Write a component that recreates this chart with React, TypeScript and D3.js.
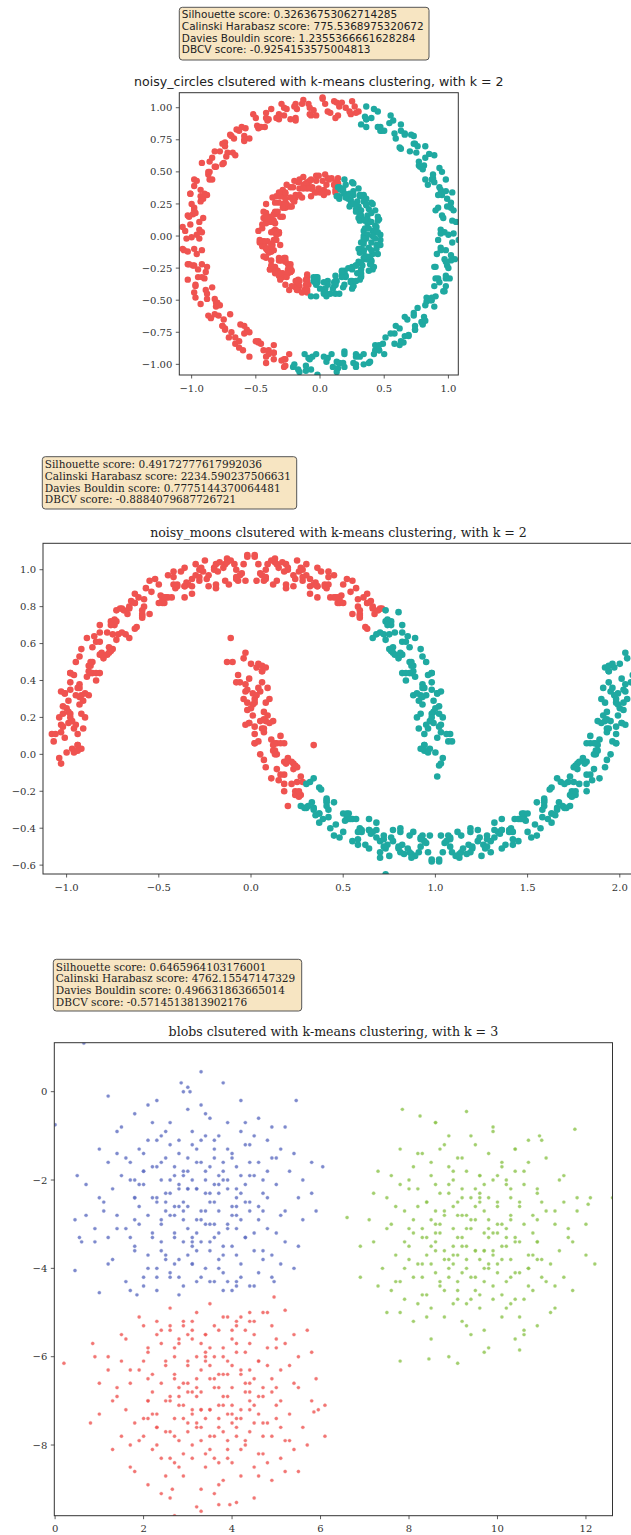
import React from "react";
import * as d3 from "d3";

type Pt = [number, number];

// ---------------- noisy circles ----------------
const circlesRed: Pt[] = [
  [0.24,0.95],[0.25,1.05],[0.14,0.94],[0.23,0.97],[0.13,1.04],[0.15,1.01],[0.02,1.07],[0.06,0.97],[-0.08,1.00],[0.04,1.03],
  [-0.07,0.94],[-0.08,0.95],[-0.20,1.01],[-0.09,1.03],[-0.23,0.91],[-0.19,1.03],[-0.32,0.95],[-0.30,1.03],[-0.41,0.90],[-0.32,0.91],
  [-0.42,0.96],[-0.40,0.91],[-0.52,0.95],[-0.48,0.84],[-0.61,0.85],[-0.49,0.86],[-0.59,0.75],[-0.59,0.74],[-0.70,0.79],[-0.59,0.78],
  [-0.72,0.65],[-0.67,0.76],[-0.78,0.66],[-0.76,0.72],[-0.86,0.58],[-0.75,0.57],[-0.84,0.61],[-0.81,0.54],[-0.92,0.57],[-0.86,0.44],
  [-0.98,0.44],[-0.84,0.44],[-0.93,0.31],[-0.91,0.29],[-1.01,0.33],[-0.88,0.32],[-0.99,0.17],[-0.93,0.27],[-1.03,0.16],[-0.98,0.22],
  [-1.07,0.07],[-0.94,0.05],[-1.01,0.09],[-0.96,0.01],[-1.05,0.04],[-0.98,-0.10],[-1.07,-0.10],[-0.92,-0.11],[-0.98,-0.23],[-0.95,-0.26],
  [-1.03,-0.22],[-0.88,-0.24],[-0.97,-0.38],[-0.89,-0.28],[-0.97,-0.39],[-0.90,-0.33],[-0.97,-0.48],[-0.82,-0.49],[-0.88,-0.45],[-0.81,-0.52],
  [-0.88,-0.49],[-0.79,-0.62],[-0.87,-0.62],[-0.70,-0.61],[-0.74,-0.73],[-0.69,-0.75],[-0.76,-0.70],[-0.59,-0.70],[-0.66,-0.84],[-0.57,-0.73],
  [-0.63,-0.82],[-0.55,-0.75],[-0.60,-0.89],[-0.44,-0.89],[-0.48,-0.83],[-0.40,-0.89],[-0.46,-0.84],[-0.36,-0.96],[-0.42,-0.94],[-0.24,-0.92],
  [-0.28,-1.02],[-0.27,-0.96],
  [0.30,0.97],[0.27,1.01],[0.28,0.96],[0.17,1.04],[0.12,0.92],[0.20,1.00],[0.08,0.96],[0.11,1.05],[-0.05,0.98],[0.02,1.08],
  [-0.03,0.94],[-0.14,1.03],[-0.18,0.99],[-0.13,1.06],[-0.19,0.90],[-0.26,0.99],[-0.19,0.92],[-0.28,1.00],[-0.28,0.94],[-0.38,0.99],
  [-0.43,0.85],[-0.34,0.92],[-0.46,0.85],[-0.42,0.92],[-0.58,0.84],[-0.50,0.92],[-0.55,0.76],[-0.65,0.83],[-0.69,0.78],[-0.63,0.82],
  [-0.68,0.65],[-0.74,0.73],[-0.66,0.63],[-0.74,0.70],[-0.73,0.62],[-0.82,0.66],[-0.86,0.50],[-0.76,0.56],[-0.87,0.48],[-0.82,0.54],
  [-0.96,0.43],[-0.87,0.50],[-0.90,0.33],[-0.98,0.39],[-1.01,0.33],[-0.93,0.36],[-0.97,0.18],[-1.00,0.25],[-0.91,0.14],[-0.98,0.20],
  [-0.94,0.11],[-1.02,0.15],[-1.04,-0.02],[-0.92,0.03],
  [-0.94,-0.02],[-1.03,-0.12],[-1.00,-0.01],[-0.96,-0.14],[-1.06,-0.11],[-0.99,-0.23],[-1.02,-0.22],[-0.95,-0.32],[-0.92,-0.22],[-1.03,-0.34],
  [-0.92,-0.32],[-0.98,-0.44],[-0.84,-0.40],[-0.93,-0.53],[-0.89,-0.42],[-0.81,-0.55],[-0.78,-0.54],[-0.85,-0.64],[-0.80,-0.52],[-0.75,-0.65],
  [-0.82,-0.61],[-0.74,-0.72],[-0.76,-0.70],[-0.66,-0.79],[-0.62,-0.69],[-0.71,-0.79],[-0.59,-0.76],[-0.63,-0.87],[-0.48,-0.82],[-0.55,-0.94],
  [-0.50,-0.82],[-0.40,-0.92],[-0.36,-0.91],[-0.42,-0.99],[-0.36,-0.85],[-0.30,-0.97],[-0.36,-0.91],[-0.27,-1.01],[-0.28,-0.96],
  [0.12,0.36],[0.11,0.40],[0.12,0.42],
  [0.06,0.45],[0.03,0.32],[0.14,0.41],[0.03,0.36],[0.09,0.45],[-0.06,0.38],[0.04,0.48],[0.01,0.34],[-0.08,0.43],[-0.10,0.40],
  [-0.03,0.47],[-0.07,0.31],[-0.11,0.41],[-0.03,0.34],[-0.10,0.42],[-0.07,0.37],[-0.16,0.44],[-0.19,0.30],[-0.08,0.38],[-0.19,0.32],
  [-0.13,0.40],[-0.27,0.33],[-0.17,0.42],[-0.20,0.27],[-0.29,0.35],[-0.31,0.32],[-0.23,0.38],[-0.27,0.22],[-0.31,0.31],[-0.22,0.23],
  [-0.29,0.31],[-0.26,0.25],[-0.34,0.31],[-0.36,0.17],[-0.25,0.23],[-0.35,0.17],[-0.29,0.25],[-0.42,0.17],[-0.32,0.26],[-0.35,0.10],
  [-0.42,0.18],[-0.44,0.14],[-0.35,0.19],[-0.38,0.03],[-0.42,0.12],[-0.32,0.03],[-0.38,0.11],[-0.35,0.05],[-0.42,0.10],[-0.44,-0.04],
  [-0.32,0.02],[-0.41,-0.04],[-0.34,0.04],[-0.47,-0.05],[-0.36,0.04],[-0.38,-0.12],[-0.44,-0.04],[-0.45,-0.08],[-0.36,-0.03],[-0.38,-0.19],
  [-0.41,-0.10],[-0.31,-0.19],[-0.36,-0.11],[-0.32,-0.17],[-0.38,-0.12],[-0.39,-0.26],[-0.27,-0.19],[-0.35,-0.25],[-0.27,-0.17],[-0.39,-0.26],
  [-0.28,-0.17],[-0.29,-0.32],[-0.35,-0.24],[-0.35,-0.28],[-0.25,-0.22],[-0.27,-0.38],[-0.29,-0.29],[-0.18,-0.37],[-0.23,-0.28],[-0.17,-0.34],
  [-0.23,-0.28],[-0.24,-0.42],[-0.11,-0.34],[-0.19,-0.40],[-0.10,-0.32],[-0.22,-0.39],[-0.10,-0.30],[-0.10,-0.44],[-0.16,-0.35],[-0.16,-0.39],
  [-0.09,-0.38],
  [0.00,0.34],[-0.08,0.43],[0.05,0.40],[-0.06,0.37],[-0.01,0.47],[-0.11,0.40],[-0.07,0.44],[-0.16,0.37],[-0.04,0.34],[-0.13,0.46],
  [-0.10,0.37],[-0.20,0.43],[-0.14,0.30],[-0.26,0.40],[-0.13,0.37],[-0.23,0.30],[-0.21,0.28],[-0.29,0.36],[-0.16,0.32],[-0.27,0.29],
  [-0.21,0.38],[-0.31,0.31],[-0.27,0.34],[-0.35,0.26],[-0.23,0.23],[-0.32,0.34],[-0.28,0.24],[-0.37,0.30],[-0.31,0.15],[-0.42,0.25],
  [-0.29,0.22],[-0.38,0.14],[-0.36,0.12],[-0.44,0.19],[-0.29,0.15],[-0.40,0.11],[-0.33,0.19],[-0.42,0.12],[-0.38,0.15],[-0.45,0.06],
  [-0.32,0.03],[-0.41,0.14],[-0.36,0.03],[-0.45,0.09],[-0.38,-0.06],[-0.48,0.04],[-0.34,0.01],[-0.43,-0.08],[-0.40,-0.10],[-0.47,-0.03],
  [-0.31,-0.07],[-0.41,-0.11],[-0.34,-0.03],[-0.42,-0.10],[-0.37,-0.07],[-0.44,-0.16],[-0.30,-0.19],[-0.38,-0.08],[-0.32,-0.19],[-0.40,-0.13],
  [-0.33,-0.27],[-0.42,-0.17],[-0.27,-0.20],[-0.35,-0.29],[-0.32,-0.31],[-0.38,-0.23],[-0.22,-0.27],[-0.31,-0.31],[-0.23,-0.22],[-0.31,-0.29],
  [-0.25,-0.26],[-0.31,-0.34],[-0.17,-0.36],[-0.23,-0.25],[-0.17,-0.35],[-0.25,-0.29],[-0.17,-0.42],[-0.26,-0.32],[-0.10,-0.35],[-0.18,-0.42],
  [-0.14,-0.44],[-0.19,-0.35],[-0.12,-0.42],[-0.11,-0.38],[-0.10,-0.42],
  [0.12,0.34],[0.14,0.45],[0.07,0.44],[0.02,0.43],[0.14,0.41],[0.04,0.34],[0.06,0.34],[-0.03,0.43],[0.11,0.40],[-0.01,0.37]
];

const circlesTeal: Pt[] = [
  [1.03,-0.05],[0.94,0.05],[1.08,0.11],[0.97,0.03],[1.04,0.20],[0.95,0.16],[0.99,0.29],[0.90,0.20],[1.02,0.26],[0.94,0.36],
  [0.98,0.35],[0.88,0.45],[0.93,0.38],[0.82,0.44],[0.95,0.50],[0.87,0.44],[0.88,0.48],[0.77,0.58],[0.89,0.63],[0.77,0.55],
  [0.82,0.70],[0.70,0.66],[0.73,0.78],[0.63,0.68],[0.73,0.72],[0.63,0.82],[0.66,0.80],[0.54,0.88],[0.58,0.80],[0.45,0.85],
  [0.57,0.90],[0.47,0.82],[0.47,0.85],[0.35,0.93],[0.45,0.97],[0.32,0.87],[0.36,1.01],
  [-0.21,-1.02],
  [-0.09,-0.95],[-0.16,-1.06],[-0.06,-0.94],[-0.11,-1.01],[-0.03,-0.92],[-0.07,-1.04],[0.10,-1.02],[0.06,-0.95],[0.15,-0.99],[0.09,-0.92],
  [0.19,-1.02],[0.13,-0.98],[0.31,-0.94],[0.28,-1.02],[0.34,-1.00],[0.28,-0.92],[0.46,-0.89],[0.39,-0.98],[0.49,-0.84],[0.43,-0.89],
  [0.51,-0.79],[0.46,-0.89],[0.62,-0.85],[0.58,-0.76],[0.66,-0.78],[0.59,-0.70],[0.69,-0.77],[0.62,-0.72],[0.79,-0.67],[0.74,-0.73],
  [0.80,-0.69],[0.73,-0.60],[0.89,-0.55],[0.81,-0.63],[0.90,-0.47],[0.83,-0.51],[0.89,-0.39],[0.83,-0.48],[0.97,-0.43],[0.92,-0.33],
  [0.98,-0.33],[0.90,-0.24],[0.98,-0.31],[0.89,-0.24],[1.05,-0.18],[0.99,-0.23],[1.02,-0.19],[0.94,-0.09],[1.08,-0.03],[0.98,-0.11],
  [0.94,0.02],[1.03,0.12],[1.00,0.01],[0.96,0.14],[1.06,0.11],[0.99,0.23],[1.02,0.22],[0.95,0.32],[0.92,0.22],[1.03,0.34],
  [0.92,0.32],[0.98,0.44],[0.84,0.40],[0.93,0.53],[0.89,0.42],[0.81,0.55],[0.78,0.54],[0.85,0.64],[0.80,0.52],[0.75,0.65],
  [0.82,0.61],[0.74,0.72],[0.76,0.70],[0.66,0.79],[0.62,0.69],[0.71,0.79],[0.59,0.76],[0.63,0.87],[0.48,0.82],[0.55,0.94],
  [0.50,0.82],[0.40,0.92],[0.36,0.91],[0.42,0.99],[0.36,0.85],[0.36,0.91],
  [-0.17,-1.04],[-0.12,-0.92],[-0.20,-1.00],[-0.08,-0.96],[-0.11,-1.05],[0.05,-0.98],[-0.02,-1.08],[0.03,-0.94],[0.14,-1.03],[0.18,-0.99],
  [0.13,-1.06],[0.19,-0.90],[0.26,-0.99],[0.19,-0.92],[0.28,-1.00],[0.28,-0.94],[0.38,-0.99],[0.43,-0.85],[0.34,-0.92],[0.46,-0.85],
  [0.42,-0.92],[0.58,-0.84],[0.50,-0.92],[0.55,-0.76],[0.65,-0.83],[0.69,-0.78],[0.63,-0.82],[0.68,-0.65],[0.74,-0.73],[0.66,-0.63],
  [0.74,-0.70],[0.73,-0.62],[0.82,-0.66],[0.86,-0.50],[0.76,-0.56],[0.87,-0.48],[0.82,-0.54],[0.96,-0.43],[0.87,-0.50],[0.90,-0.33],
  [0.98,-0.39],[1.01,-0.33],[0.93,-0.36],[0.97,-0.18],[1.00,-0.25],[0.91,-0.14],[0.98,-0.20],[0.94,-0.11],[1.02,-0.15],[1.04,0.02],
  [0.92,-0.03],
  [0.34,0.00],[0.43,0.08],[0.40,-0.05],[0.37,0.06],[0.47,0.01],[0.40,0.11],[0.44,0.07],[0.37,0.16],[0.34,0.04],[0.46,0.13],
  [0.37,0.10],[0.43,0.20],[0.30,0.14],[0.40,0.26],[0.37,0.13],[0.30,0.23],[0.28,0.21],[0.36,0.29],[0.32,0.16],[0.29,0.27],
  [0.38,0.21],[0.31,0.31],[0.34,0.27],[0.26,0.35],[0.23,0.23],[0.34,0.32],[0.24,0.28],[0.30,0.37],[0.15,0.31],[0.25,0.42],
  [0.22,0.29],[0.14,0.38],[0.19,0.44],[0.15,0.29],[0.19,0.33],[0.15,0.38],[-0.05,-0.32],[-0.07,-0.47],
  [0.03,-0.45],[-0.02,-0.36],[0.04,-0.41],[-0.02,-0.34],[-0.03,-0.47],[0.11,-0.39],[0.03,-0.44],[0.12,-0.35],[0.00,-0.41],[0.12,-0.31],
  [0.12,-0.45],[0.06,-0.35],[0.06,-0.38],[0.17,-0.31],[0.15,-0.45],[0.13,-0.35],[0.25,-0.41],[0.20,-0.31],[0.25,-0.36],[0.19,-0.28],
  [0.18,-0.40],[0.32,-0.31],[0.24,-0.36],[0.32,-0.26],[0.20,-0.32],[0.32,-0.21],[0.31,-0.34],[0.25,-0.24],[0.25,-0.26],[0.35,-0.18],
  [0.32,-0.32],[0.30,-0.20],[0.41,-0.26],[0.36,-0.16],[0.40,-0.20],[0.34,-0.12],[0.33,-0.23],[0.45,-0.14],[0.37,-0.18],[0.44,-0.07],
  [0.31,-0.13],[0.43,-0.02],[0.41,-0.14],[0.34,-0.04],[0.34,-0.06],[0.43,0.03],[0.40,-0.11],[0.37,0.01],
  [-0.03,-0.38],[-0.03,-0.32],[-0.05,-0.35],
  [0.04,-0.44],[-0.02,-0.32],[0.04,-0.41],[-0.04,-0.34],[0.05,-0.47],[-0.04,-0.36],[0.12,-0.38],[0.04,-0.44],[0.08,-0.45],[0.03,-0.36],
  [0.19,-0.38],[0.10,-0.41],[0.19,-0.31],[0.11,-0.36],[0.17,-0.32],[0.12,-0.38],[0.26,-0.39],[0.19,-0.27],[0.25,-0.35],[0.17,-0.27],
  [0.26,-0.39],[0.17,-0.28],[0.32,-0.29],[0.24,-0.35],[0.28,-0.35],[0.22,-0.25],[0.38,-0.27],[0.29,-0.29],[0.37,-0.18],[0.28,-0.23],
  [0.34,-0.17],[0.28,-0.23],[0.42,-0.24],[0.34,-0.11],[0.40,-0.19],[0.32,-0.10],[0.39,-0.22],[0.30,-0.10],[0.44,-0.10],[0.35,-0.16],
  [0.39,-0.16],[0.32,-0.05],[0.47,-0.07],[0.38,-0.09],[0.45,0.03],[0.36,-0.02],[0.41,0.04],[0.34,-0.02],[0.47,-0.03],[0.39,0.11],
  [0.44,0.03],[0.35,0.12],[0.41,0.00],[0.31,0.12],[0.45,0.12],[0.35,0.06],[0.38,0.06],[0.31,0.17],[0.45,0.15],[0.35,0.13],
  [0.41,0.25],[0.31,0.20],[0.36,0.25],[0.28,0.19],[0.40,0.18],[0.31,0.32],[0.36,0.24],[0.26,0.32],[0.32,0.20],[0.21,0.32],
  [0.34,0.31],[0.24,0.25],[0.26,0.25],[0.18,0.35],[0.32,0.32],[0.20,0.30],[0.26,0.41],[0.16,0.36],[0.20,0.40],
  [0.23,0.33],[0.18,0.37],[0.13,0.31]
];

// ---------------- noisy moons ----------------
const moonsRed: Pt[] = [
  [0.63,0.68],[0.63,0.82],[0.66,0.80],[0.54,0.88],[0.58,0.80],[0.45,0.85],[0.57,0.90],[0.47,0.82],[0.47,0.85],[0.35,0.93],
  [0.45,0.97],[0.32,0.87],[0.36,1.01],[0.24,0.95],[0.25,1.05],[0.14,0.94],[0.23,0.97],[0.13,1.04],[0.15,1.01],[0.02,1.07],
  [0.06,0.97],[-0.08,1.00],[0.04,1.03],[-0.07,0.94],[-0.08,0.95],[-0.20,1.01],[-0.09,1.03],[-0.23,0.91],[-0.19,1.03],[-0.32,0.95],
  [-0.30,1.03],[-0.41,0.90],[-0.32,0.91],[-0.42,0.96],[-0.40,0.91],[-0.52,0.95],[-0.48,0.84],[-0.61,0.85],[-0.49,0.86],[-0.59,0.75],
  [-0.59,0.74],[-0.70,0.79],[-0.59,0.78],[-0.72,0.65],[-0.67,0.76],[-0.78,0.66],[-0.76,0.72],[-0.86,0.58],[-0.75,0.57],[-0.84,0.61],
  [-0.81,0.54],[-0.92,0.57],[-0.86,0.44],[-0.98,0.44],[-0.84,0.44],[-0.93,0.31],[-0.91,0.29],[-1.01,0.33],[-0.88,0.32],[-0.99,0.17],
  [-0.93,0.27],[-1.03,0.16],[-0.98,0.22],[-1.07,0.07],[-0.94,0.05],[-1.01,0.09],[-0.96,0.01],
  [0.66,0.79],[0.62,0.69],[0.71,0.79],[0.59,0.76],[0.63,0.87],[0.48,0.82],[0.55,0.94],[0.50,0.82],[0.40,0.92],[0.36,0.91],
  [0.42,0.99],[0.36,0.85],[0.30,0.97],[0.36,0.91],[0.27,1.01],[0.28,0.96],[0.17,1.04],[0.12,0.92],[0.20,1.00],[0.08,0.96],
  [0.11,1.05],[-0.05,0.98],[0.02,1.08],[-0.03,0.94],[-0.14,1.03],[-0.18,0.99],[-0.13,1.06],[-0.19,0.90],[-0.26,0.99],[-0.19,0.92],
  [-0.28,1.00],[-0.28,0.94],[-0.38,0.99],[-0.43,0.85],[-0.34,0.92],[-0.46,0.85],[-0.42,0.92],[-0.58,0.84],[-0.50,0.92],[-0.55,0.76],
  [-0.65,0.83],[-0.69,0.78],[-0.63,0.82],[-0.68,0.65],[-0.74,0.73],[-0.66,0.63],[-0.74,0.70],[-0.73,0.62],[-0.82,0.66],[-0.86,0.50],
  [-0.76,0.56],[-0.87,0.48],[-0.82,0.54],[-0.96,0.43],[-0.87,0.50],[-0.90,0.33],[-0.98,0.39],[-1.01,0.33],[-0.93,0.36],[-0.97,0.18],
  [-1.00,0.25],[-0.91,0.14],[-0.98,0.20],[-0.94,0.11],[-1.02,0.15],[-1.04,-0.02],[-0.92,0.03],
  [-1.03,-0.05],[-0.94,0.05],[-1.08,0.11],[-0.97,0.03],[-1.04,0.20],[-0.95,0.16],[-0.99,0.29],[-0.90,0.20],[-1.02,0.26],[-0.94,0.36],
  [-0.98,0.35],[-0.88,0.45],[-0.93,0.38],[-0.82,0.44],[-0.95,0.50],[-0.87,0.44],[-0.88,0.48],[-0.77,0.58],[-0.89,0.63],[-0.77,0.55],
  [-0.82,0.70],[-0.70,0.66],[-0.73,0.78],[-0.63,0.68],[-0.73,0.72],[-0.63,0.82],[-0.66,0.80],[-0.54,0.88],[-0.58,0.80],[-0.45,0.85],
  [-0.57,0.90],[-0.47,0.82],[-0.47,0.85],[-0.35,0.93],[-0.45,0.97],[-0.32,0.87],[-0.36,1.01],[-0.24,0.95],[-0.25,1.05],[-0.14,0.94],
  [-0.23,0.97],[-0.13,1.04],[-0.15,1.01],[-0.02,1.07],[-0.06,0.97],[0.08,1.00],[-0.04,1.03],[0.07,0.94],[0.08,0.95],[0.20,1.01],
  [0.09,1.03],[0.23,0.91],[0.19,1.03],[0.32,0.95],[0.30,1.03],[0.41,0.90],[0.32,0.91],[0.42,0.96],[0.40,0.91],[0.52,0.95],
  [0.48,0.84],[0.61,0.85],[0.49,0.86],[0.59,0.75],[0.59,0.74],[0.70,0.79],[0.59,0.78],[0.67,0.76],
  [-0.94,0.02],[-1.03,0.12],[-1.00,0.01],[-0.96,0.14],[-1.06,0.11],[-0.99,0.23],[-1.02,0.22],[-0.95,0.32],[-0.92,0.22],[-1.03,0.34],
  [-0.92,0.32],[-0.98,0.44],[-0.84,0.40],[-0.93,0.53],[-0.89,0.42],[-0.81,0.55],[-0.78,0.54],[-0.85,0.64],[-0.80,0.52],[-0.75,0.65],
  [-0.82,0.61],[-0.74,0.72],[-0.76,0.70],[-0.66,0.79],[-0.62,0.69],[-0.71,0.79],[-0.59,0.76],[-0.63,0.87],[-0.48,0.82],[-0.55,0.94],
  [-0.50,0.82],[-0.40,0.92],[-0.36,0.91],[-0.42,0.99],[-0.36,0.85],[-0.30,0.97],[-0.36,0.91],[-0.27,1.01],[-0.28,0.96],[-0.17,1.04],
  [-0.12,0.92],[-0.20,1.00],[-0.08,0.96],[-0.11,1.05],[0.05,0.98],[-0.02,1.08],[0.03,0.94],[0.14,1.03],[0.18,0.99],[0.13,1.06],
  [0.19,0.90],[0.26,0.99],[0.19,0.92],[0.28,1.00],[0.28,0.94],[0.38,0.99],[0.43,0.85],[0.34,0.92],[0.46,0.85],[0.42,0.92],
  [0.58,0.84],[0.50,0.92],[0.55,0.76],[0.65,0.83],[0.69,0.78],[0.63,0.82],
  [-0.03,0.55],[0.06,0.45],[-0.08,0.39],[0.03,0.47],[-0.04,0.30],[0.05,0.34],[0.01,0.21],[0.10,0.30],[-0.02,0.24],[0.06,0.14],
  [0.02,0.15],[0.12,0.05],[0.07,0.12],[0.18,0.06],[0.05,0.00],[0.13,0.06],[0.12,0.02],[0.23,-0.08],[0.11,-0.13],[0.23,-0.05],
  [0.18,-0.20],[0.27,-0.22],
  [0.06,0.48],[-0.03,0.38],[0.00,0.49],[0.04,0.36],[-0.06,0.39],[0.01,0.27],[-0.02,0.28],[0.05,0.18],[0.08,0.28],[-0.03,0.16],
  [0.08,0.18],[0.02,0.06],[0.16,0.10],[0.07,-0.03],[0.11,0.08],[0.19,-0.05],[0.22,-0.04],[0.15,-0.14],[0.20,-0.02],[0.25,-0.15],
  [0.18,-0.11],[0.26,-0.22],[0.24,-0.20],
  [0.28,-0.15],[0.22,-0.16],[0.24,-0.22],[0.14,-0.08],[0.25,-0.07],[0.16,-0.11],[0.19,-0.04],[0.08,-0.07],[0.14,0.06],[0.02,0.06],
  [0.16,0.06],[0.07,0.19],[0.09,0.21],[-0.01,0.17],[0.12,0.18],[0.01,0.33],[0.07,0.23],[-0.03,0.34],[0.02,0.28],[-0.07,0.43],
  [0.06,0.45],[-0.01,0.41],[0.04,0.49],
  [0.26,-0.23],[0.26,-0.20],[0.27,-0.12],[0.18,-0.16],[0.14,0.00],[0.24,-0.06],[0.13,0.02],[0.18,-0.04],[0.04,0.07],[0.13,0.00],
  [0.10,0.17],[0.02,0.11],[-0.01,0.17],[0.07,0.14],[0.03,0.32],[0.00,0.25],[0.09,0.36],[0.02,0.30],[0.06,0.39],[-0.02,0.35],
  [-0.04,0.52],[0.08,0.47],
  [-0.11,0.63],[-0.13,0.50],[-0.10,0.50],[0.34,0.05],[0.20,-0.28]
];

const moonsTeal: Pt[] = [
  [1.03,-0.05],[0.94,0.05],[1.08,0.11],[0.97,0.03],[1.04,0.20],[0.95,0.16],[0.99,0.29],[0.90,0.20],[1.02,0.26],[0.94,0.36],
  [0.98,0.35],[0.88,0.45],[0.93,0.38],[0.82,0.44],[0.95,0.50],[0.87,0.44],[0.88,0.48],[0.77,0.58],[0.89,0.63],[0.77,0.55],
  [0.82,0.70],[0.70,0.66],[0.73,0.78],[0.73,0.72],
  [0.94,0.02],[1.03,0.12],[1.00,0.01],[0.96,0.14],[1.06,0.11],[0.99,0.23],[1.02,0.22],[0.95,0.32],[0.92,0.22],[1.03,0.34],
  [0.92,0.32],[0.98,0.44],[0.84,0.40],[0.93,0.53],[0.89,0.42],[0.81,0.55],[0.78,0.54],[0.85,0.64],[0.80,0.52],[0.75,0.65],
  [0.82,0.61],[0.74,0.72],[0.76,0.70],
  [0.72,0.65],[0.78,0.66],[0.76,0.72],[0.86,0.58],[0.75,0.57],[0.84,0.61],[0.81,0.54],[0.92,0.57],[0.86,0.44],[0.98,0.44],
  [0.84,0.44],[0.93,0.31],[0.91,0.29],[1.01,0.33],[0.88,0.32],[0.99,0.17],[0.93,0.27],[1.03,0.16],[0.98,0.22],[1.07,0.07],
  [0.94,0.05],[1.01,0.09],[0.96,0.01],
  [0.68,0.65],[0.74,0.73],[0.66,0.63],[0.74,0.70],[0.73,0.62],[0.82,0.66],[0.86,0.50],[0.76,0.56],[0.87,0.48],[0.82,0.54],
  [0.96,0.43],[0.87,0.50],[0.90,0.33],[0.98,0.39],[1.01,0.33],[0.93,0.36],[0.97,0.18],[1.00,0.25],[0.91,0.14],[0.98,0.20],
  [0.94,0.11],[1.02,0.15],[1.04,-0.02],[0.92,0.03],
  [1.01,-0.12],[1.02,-0.06],[1.09,0.07],[0.80,0.77],[0.73,-0.65],[0.70,-0.56],
  [0.30,-0.16],[0.27,-0.28],[0.37,-0.18],[0.37,-0.32],[0.34,-0.30],[0.46,-0.38],[0.42,-0.30],[0.55,-0.35],[0.43,-0.40],[0.53,-0.32],
  [0.53,-0.35],[0.65,-0.43],[0.55,-0.47],[0.68,-0.37],[0.64,-0.51],[0.76,-0.45],[0.75,-0.55],[0.86,-0.44],[0.77,-0.47],[0.87,-0.54],
  [0.85,-0.51],[0.98,-0.57],[0.94,-0.47],[1.08,-0.50],[0.96,-0.53],[1.07,-0.44],[1.08,-0.45],[1.20,-0.51],[1.09,-0.53],[1.23,-0.41],
  [1.19,-0.53],[1.32,-0.45],[1.30,-0.53],[1.41,-0.40],[1.32,-0.41],[1.42,-0.46],[1.40,-0.41],[1.52,-0.45],[1.48,-0.34],[1.61,-0.35],
  [1.49,-0.36],[1.59,-0.25],[1.59,-0.24],[1.70,-0.29],[1.59,-0.28],[1.72,-0.15],[1.67,-0.26],[1.78,-0.16],[1.76,-0.22],[1.86,-0.08],
  [1.75,-0.07],[1.84,-0.11],[1.81,-0.04],[1.92,-0.07],[1.86,0.06],[1.98,0.06],[1.84,0.06],[1.93,0.19],[1.91,0.21],[2.01,0.17],
  [1.88,0.18],[1.99,0.33],[1.93,0.23],[2.03,0.34],[1.98,0.28],[2.07,0.43],[1.94,0.45],[2.01,0.41],[1.96,0.49],
  [0.34,-0.29],[0.38,-0.19],[0.29,-0.29],[0.41,-0.26],[0.37,-0.37],[0.52,-0.32],[0.45,-0.44],[0.50,-0.32],[0.60,-0.42],[0.64,-0.41],
  [0.58,-0.49],[0.64,-0.35],[0.70,-0.47],[0.64,-0.41],[0.73,-0.51],[0.72,-0.46],[0.83,-0.54],[0.88,-0.42],[0.80,-0.50],[0.92,-0.46],
  [0.89,-0.55],[1.05,-0.48],[0.98,-0.58],[1.03,-0.44],[1.14,-0.53],[1.18,-0.49],[1.13,-0.56],[1.19,-0.40],[1.26,-0.49],[1.19,-0.42],
  [1.28,-0.50],[1.28,-0.44],[1.38,-0.49],[1.43,-0.35],[1.34,-0.42],[1.46,-0.35],[1.42,-0.42],[1.58,-0.34],[1.50,-0.42],[1.55,-0.26],
  [1.65,-0.33],[1.69,-0.28],[1.63,-0.32],[1.68,-0.15],[1.74,-0.23],[1.66,-0.13],[1.74,-0.20],[1.73,-0.12],[1.82,-0.16],[1.86,0.00],
  [1.76,-0.06],[1.87,0.02],[1.82,-0.04],[1.96,0.07],[1.87,0.00],[1.90,0.17],[1.98,0.11],[2.01,0.17],[1.93,0.14],[1.97,0.32],
  [2.00,0.25],[1.91,0.36],[1.98,0.30],[1.94,0.39],[2.02,0.35],[2.04,0.52],[1.92,0.47],
  [2.03,0.55],[1.94,0.45],[2.08,0.39],[1.97,0.47],[2.04,0.30],[1.95,0.34],[1.99,0.21],[1.90,0.30],[2.02,0.24],[1.94,0.14],
  [1.98,0.15],[1.88,0.05],[1.93,0.12],[1.82,0.06],[1.95,0.00],[1.87,0.06],[1.88,0.02],[1.77,-0.08],[1.89,-0.13],[1.77,-0.05],
  [1.82,-0.20],[1.70,-0.16],[1.73,-0.28],[1.63,-0.18],[1.73,-0.22],[1.63,-0.32],[1.66,-0.30],[1.54,-0.38],[1.58,-0.30],[1.45,-0.35],
  [1.57,-0.40],[1.47,-0.32],[1.47,-0.35],[1.35,-0.43],[1.45,-0.47],[1.32,-0.37],[1.36,-0.51],[1.24,-0.45],[1.25,-0.55],[1.14,-0.44],
  [1.23,-0.47],[1.13,-0.54],[1.15,-0.51],[1.02,-0.57],[1.06,-0.47],[0.92,-0.50],[1.04,-0.53],[0.93,-0.44],[0.92,-0.45],[0.80,-0.51],
  [0.91,-0.53],[0.77,-0.41],[0.81,-0.53],[0.68,-0.45],[0.70,-0.53],[0.59,-0.40],[0.68,-0.41],[0.58,-0.46],[0.60,-0.41],[0.48,-0.45],
  [0.52,-0.34],[0.39,-0.35],[0.51,-0.36],[0.41,-0.25],[0.41,-0.24],[0.30,-0.29],[0.41,-0.28],[0.33,-0.26],
  [1.94,0.48],[2.03,0.38],[2.00,0.49],[1.96,0.36],[2.06,0.39],[1.99,0.27],[2.02,0.28],[1.95,0.18],[1.92,0.28],[2.03,0.16],
  [1.92,0.18],[1.98,0.06],[1.84,0.10],[1.93,-0.03],[1.89,0.08],[1.81,-0.05],[1.78,-0.04],[1.85,-0.14],[1.80,-0.02],[1.75,-0.15],
  [1.82,-0.11],[1.74,-0.22],[1.76,-0.20],[1.66,-0.29],[1.62,-0.19],[1.71,-0.29],[1.59,-0.26],[1.63,-0.37],[1.48,-0.32],[1.55,-0.44],
  [1.50,-0.32],[1.40,-0.42],[1.36,-0.41],[1.42,-0.49],[1.36,-0.35],[1.30,-0.47],[1.36,-0.41],[1.27,-0.51],[1.28,-0.46],[1.17,-0.54],
  [1.12,-0.42],[1.20,-0.50],[1.08,-0.46],[1.11,-0.55],[0.95,-0.48],[1.02,-0.58],[0.97,-0.44],[0.86,-0.53],[0.82,-0.49],[0.87,-0.56],
  [0.81,-0.40],[0.74,-0.49],[0.81,-0.42],[0.72,-0.50],[0.72,-0.44],[0.62,-0.49],[0.57,-0.35],[0.66,-0.42],[0.54,-0.35],[0.58,-0.42],
  [0.42,-0.34],[0.50,-0.42],[0.45,-0.26],[0.35,-0.33],[0.31,-0.28],[0.37,-0.32],[0.32,-0.15],[0.34,-0.13]
];

// ---------------- blobs ----------------
const blobsBlue: Pt[] = [
  [3.5,-3.0],[2.0,-2.1],[4.0,-1.4],[2.8,-3.8],[4.7,-2.3],[2.5,-2.7],[3.3,-1.6],[1.4,-3.1],[3.8,-4.1],[3.0,-2.2],
  [4.3,-3.3],[2.3,-1.1],[3.6,-2.5],[1.8,-3.6],[5.3,-1.8],[2.7,-1.9],[4.1,-2.8],[3.1,-3.4],[4.5,-1.0],[1.0,-2.4],
  [3.4,-0.5],[2.6,-4.2],[4.9,-3.7],[2.2,-1.7],[3.7,-2.1],[2.9,-2.9],[4.2,-1.9],[1.6,-1.5],[3.2,-4.3],[5.6,-2.9],
  [2.4,-3.4],[3.9,-0.7],[1.9,-2.6],[4.6,-2.6],[2.8,-1.4],[3.5,-3.6],[1.2,-3.9],[4.4,-1.6],[3.0,-3.1],[4.0,-4.5],
  [2.1,-0.3],[5.1,-1.3],[2.5,-2.3],[3.3,-2.7],[1.7,-2.0],[3.8,-1.8],[3.1,-0.9],[4.8,-3.1],[2.3,-4.0],[3.6,-3.3],
  [0.7,-2.8],[4.2,-0.2],[2.7,-2.6],[5.4,-4.0],[2.0,-4.4],[3.4,-2.0],[2.6,-1.2],[4.1,-2.4],[1.5,-0.8],[4.5,-4.4],
  [2.9,-2.5],[3.7,-3.8],[2.2,-3.2],[5.0,-2.1],[2.4,-1.6],[3.2,-1.3],[5.8,-1.6],[1.3,-2.2],[3.9,-3.0],[2.8,-4.6],
  [4.3,-1.2],[1.8,-2.9],[3.5,-1.7],[3.1,-3.9],[4.7,-2.0],[0.9,-3.4],[4.0,-3.5],[2.6,-2.0],[3.4,-1.0],[2.1,-3.7],
  [4.4,-2.7],[3.0,0.1],[5.2,-3.4],[2.3,-2.5],[3.8,-4.5],[1.6,-4.3],[3.6,-1.5],[2.7,-3.3],[4.9,-1.5],[1.9,-1.3],
  [3.3,-2.9],[4.1,-2.2],[2.5,-3.7],[4.6,-0.6],[1.1,-2.7],[3.7,-2.3],[2.9,-1.8],[4.2,-3.9],[2.2,-0.7],[3.2,-3.2],
  [5.5,-2.4],[2.4,-3.0],[3.9,-2.0],[1.7,-3.3],[4.3,-2.5],[2.8,-2.1],[3.5,-4.3],[2.0,-1.8],[4.8,-1.1],[2.6,-2.8],
  [3.4,-2.3],[1.4,-1.4],[4.5,-3.2],[3.0,-1.5],[4.0,-2.6],[2.3,-4.5],[3.6,-1.1],[3.1,-3.5],[5.1,-2.8],[1.8,-2.4],
  [3.8,-1.6],[2.7,-3.9],[4.4,-1.9],[2.5,-0.9],[3.2,-2.2],[5.2,-0.8],[0.5,-1.9],[4.1,-4.4],[2.9,-2.7],[4.7,-3.6],
  [2.7,-2.8],[3.6,-1.3],[4.3,-3.3],[1.9,-2.1],[3.4,-4.0],[3.0,-1.8],[4.1,-2.6],[2.6,-0.7],[1.6,-3.1],[3.5,-2.3],
  [2.4,-3.6],[4.6,-1.6],[3.2,-2.9],[2.1,-1.1],[3.9,-4.3],[3.8,-2.0],[2.9,-3.4],[2.3,-2.4],[4.7,-3.8],[3.3,-0.3],
  [5.2,-2.7],[1.5,-1.9],[2.0,-4.2],[4.0,-1.5],[3.6,-3.0],[2.8,-2.2],[3.8,-3.5],[4.2,-0.9],[1.1,-2.5],[2.8,-4.2],
  [2.3,-1.7],[5.0,-3.2],[3.1,-1.2],[3.1,-3.9],[4.3,-2.1],[2.1,-2.8],[1.8,-0.5],[4.1,-3.7],[2.6,-2.3],[1.2,-3.3],
  [5.4,-1.4],[4.4,-4.4],[3.4,-1.8],[3.0,-2.6],[3.7,-1.0],[3.9,-3.1],[4.8,-2.4],[2.6,-4.1],[1.7,-1.6],[2.4,-2.9],
  [2.9,0.0],[5.5,-3.5],[3.1,-2.0],[1.7,-4.5],[1.0,-1.3],[3.7,-2.7],[4.5,-1.9],[3.3,-3.4],[4.9,-0.8],[1.3,-3.8],
  [3.2,-2.2],[1.9,-3.0],[2.5,-1.5],[3.6,-4.3],[4.1,-1.7],[4.4,-2.5],[4.1,-4.3],[3.5,-0.6],[2.7,-3.2],[0.7,-2.1],
  [4.5,-3.6],[2.8,-1.1],[4.0,-2.8],[1.8,-2.4],[3.7,-4.0],[2.3,-0.2],[2.2,-3.3],[3.7,-1.9],[4.7,-2.7],[2.0,-1.4],
  [3.0,-3.7],[5.8,-2.3],[2.3,-4.2],[3.2,-1.6],[0.9,-3.1],[1.4,-0.9],[4.2,-2.9],[2.4,-2.0],[4.2,-4.2],[4.4,-1.2],
  [2.8,-2.6],[3.5,-3.4],[2.0,-1.8],[5.1,-3.9],[3.0,-0.4],[3.4,-3.0],[3.9,-2.2],[1.8,-3.5],[5.0,-1.5],[2.5,-2.5],
  [3.3,-4.2],[2.7,-1.7],[3.7,-3.2],[2.4,-1.0],[3.2,-3.6],[3.6,-2.1],[1.4,-2.8],[3.9,-1.3],[4.6,-4.1],[2.9,-1.9],
  [3.4,-2.7],[4.3,-0.7],[2.5,-3.8],[4.2,-2.3],[3.1,-3.3],[1.2,-1.6],[4.6,-2.9],[2.2,-2.4],[2.9,-4.4],[3.3,-1.1],
  [4.1,-3.1],[1.8,-2.0],[3.8,-3.7],[4.8,-1.8],[3.5,-2.5],[4.9,-4.2],[3.8,0.2],[0.6,-3.4],[3.0,-2.2],[2.1,-4.0],
  [3.3,0.45],[2.85,0.2],[3.05,0.0],[5.45,-0.2],[6.05,-1.7],[5.6,-2.0],[0.0,-0.75],[0.45,-2.9],[0.55,-3.3],[1.2,-0.1],
  [0.65,1.1],[5.9,-2.7],[0.45,-4.05],[1.0,-4.55],[1.85,-4.6],[4.95,-4.3]
];

const blobsRed: Pt[] = [
  [3.0,-6.6],[3.9,-8.1],[4.6,-6.1],[2.2,-7.3],[3.7,-5.4],[3.3,-7.6],[4.4,-6.8],[2.9,-8.7],[1.9,-6.3],[3.8,-7.1],
  [2.7,-5.8],[4.9,-7.8],[3.5,-6.5],[2.4,-8.3],[4.2,-5.1],[4.1,-7.4],[3.2,-6.0],[2.6,-7.0],[5.0,-5.6],[3.6,-9.1],
  [5.5,-6.7],[1.8,-7.5],[2.3,-5.2],[4.3,-7.9],[3.9,-6.4],[3.1,-7.2],[4.1,-5.9],[4.5,-8.5],[1.4,-6.9],[3.1,-5.2],
  [2.6,-7.7],[5.3,-6.2],[3.4,-8.2],[3.4,-5.5],[4.6,-7.3],[2.4,-6.6],[2.1,-8.9],[4.4,-5.7],[2.9,-7.1],[1.5,-6.1],
  [5.7,-8.0],[4.7,-5.0],[3.7,-7.6],[3.3,-6.8],[4.0,-8.4],[4.2,-6.3],[5.1,-7.0],[2.9,-5.3],[2.0,-7.8],[2.7,-6.5],
  [3.2,-9.4],[5.8,-5.9],[3.4,-7.4],[2.0,-5.3],[1.3,-8.1],[4.0,-6.7],[4.8,-7.5],[3.6,-6.0],[5.2,-8.6],[1.6,-5.6],
  [3.5,-7.2],[2.2,-6.4],[2.8,-7.9],[3.9,-5.1],[4.4,-7.7],[4.7,-6.9],[4.4,-5.2],[3.8,-8.8],[3.0,-6.2],[1.0,-7.3],
  [4.8,-5.8],[3.1,-8.3],[4.3,-6.6],[2.1,-7.0],[4.0,-5.4],[2.6,-9.2],[2.5,-6.1],[4.0,-7.5],[5.0,-6.7],[2.3,-8.0],
  [3.3,-5.7],[6.1,-7.1],[2.6,-4.9],[3.5,-7.8],[1.2,-6.3],[1.7,-8.5],[4.5,-6.5],[2.7,-7.4],[4.5,-5.2],[4.7,-8.2],
  [3.1,-6.8],[3.8,-6.0],[2.3,-7.6],[5.4,-5.5],[3.3,-9.0],[3.7,-6.4],[4.2,-7.2],[2.1,-5.9],[5.3,-7.9],[2.8,-6.9],
  [3.6,-5.3],[3.0,-7.7],[4.0,-6.2],[2.7,-8.4],[3.5,-5.8],[3.9,-7.3],[1.7,-6.6],[4.2,-8.1],[4.9,-5.3],[3.2,-7.5],
  [3.7,-6.7],[4.6,-8.7],[2.8,-5.6],[4.5,-7.1],[3.4,-6.1],[1.5,-7.8],[4.9,-6.5],[2.5,-7.0],[3.2,-5.0],[3.6,-8.3],
  [4.4,-6.3],[2.1,-7.4],[4.1,-5.7],[5.1,-7.6],[3.8,-6.9],[5.2,-4.95],[4.1,-9.3],[0.9,-6.0],[3.3,-7.2],[2.4,-5.4],
  [3.8,-6.4],[2.3,-7.3],[4.3,-8.0],[3.1,-5.6],[5.0,-7.1],[2.8,-6.7],[3.6,-7.8],[1.7,-6.3],[4.1,-5.3],[3.3,-7.2],
  [4.6,-6.1],[2.6,-8.3],[3.9,-6.9],[2.1,-5.8],[5.6,-7.6],[3.0,-7.5],[4.4,-6.6],[3.4,-6.0],[4.8,-8.4],[1.3,-7.0],
  [3.7,-8.9],[2.9,-5.2],[5.2,-5.7],[2.5,-7.7],[4.0,-7.3],[3.2,-6.5],[4.5,-7.5],[1.9,-7.9],[3.5,-4.8],[5.9,-6.5],
  [2.7,-6.0],[4.2,-8.7],[2.2,-6.8],[4.9,-6.8],[3.1,-8.0],[3.8,-5.8],[1.5,-5.5],[4.7,-7.8],[3.3,-6.3],[4.3,-5.4],
  [2.4,-9.1],[5.4,-8.1],[2.8,-7.1],[3.6,-6.7],[2.0,-7.4],[4.1,-7.6],[3.4,-8.5],[5.1,-6.3],[2.6,-5.4],[3.9,-6.1],
  [1.0,-6.6],[4.5,-9.2],[3.0,-6.8],[5.7,-5.4],[2.3,-5.5],[3.7,-7.4],[2.9,-8.2],[4.4,-7.0],[1.8,-8.6],[4.8,-5.0],
  [3.2,-6.9],[4.0,-5.6],[2.5,-6.2],[5.3,-7.3],[2.7,-7.8],[3.5,-8.1],[6.1,-7.8],[1.6,-7.2],[4.2,-6.4],[3.1,-5.4],
  [4.6,-8.2],[2.1,-6.5],[3.8,-7.7],[3.4,-5.5],[5.0,-7.4],[1.2,-6.0],[4.3,-5.9],[2.9,-7.4],[3.7,-8.4],[2.4,-5.7],
  [4.7,-6.7],[3.3,-9.5],[5.5,-6.0],[2.6,-6.9],[4.1,-5.2],[1.9,-5.1],[3.9,-7.9],[3.0,-6.1],[5.2,-7.9],[2.2,-8.1],
  [3.6,-6.5],[4.4,-7.2],[2.8,-5.7],[4.9,-8.8],[1.4,-6.7],[4.0,-7.1],[3.2,-7.6],[4.5,-5.5],[2.5,-8.7],[3.5,-6.2],
  [5.8,-7.0],[2.7,-6.4],[4.2,-7.4],[2.0,-6.1],[4.6,-6.9],[3.1,-7.3],[3.8,-5.1],[2.3,-7.6],[5.1,-8.3],[2.9,-6.6],
  [3.7,-7.1],[1.7,-8.0],[4.8,-6.2],[3.3,-7.9],[4.3,-6.8],[2.6,-5.3],[3.9,-8.3],[3.4,-5.9],[5.4,-6.6],[2.1,-7.0],
  [4.1,-7.8],[3.0,-5.5],[4.7,-7.5],[2.8,-8.5],[3.5,-7.2],[5.5,-8.6],[0.8,-7.5],[4.4,-5.0],[3.2,-6.7],[5.0,-5.8],
  [0.2,-6.15],[5.85,-7.25],[5.95,-7.2],[3.7,-9.35],[3.95,-9.35],[2.7,-9.6],[0.85,-5.7],[4.95,-4.65],[2.65,-9.0]
];

const blobsGreen: Pt[] = [
  [9.2,-2.8],[10.7,-3.7],[8.7,-4.4],[9.9,-2.0],[8.0,-3.5],[10.2,-3.1],[9.4,-4.2],[11.3,-2.7],[8.9,-1.7],[9.7,-3.6],
  [8.4,-2.5],[10.4,-4.7],[9.1,-3.3],[10.9,-2.2],[7.4,-4.0],[10.0,-3.9],[8.6,-3.0],[9.6,-2.4],[8.2,-4.8],[11.7,-3.4],
  [9.3,-5.3],[10.1,-1.6],[7.8,-2.1],[10.5,-4.1],[9.0,-3.7],[9.8,-2.9],[8.5,-3.9],[11.1,-4.3],[9.5,-1.2],[7.1,-2.9],
  [10.3,-2.4],[8.8,-5.1],[10.8,-3.2],[8.1,-3.2],[9.9,-4.4],[9.2,-2.2],[11.5,-1.9],[8.3,-4.2],[9.7,-2.7],[8.7,-1.3],
  [10.6,-5.5],[7.6,-4.5],[10.2,-3.5],[9.4,-3.1],[11.0,-3.8],[8.9,-4.0],[9.6,-4.9],[7.9,-2.7],[10.4,-1.8],[9.1,-2.5],
  [12.0,-3.0],[8.5,-5.6],[10.0,-3.2],[7.3,-1.8],[10.7,-1.1],[9.3,-3.8],[10.1,-4.6],[8.6,-3.4],[11.2,-5.0],[8.2,-1.4],
  [9.8,-3.3],[9.0,-2.0],[10.5,-2.6],[7.7,-3.7],[10.3,-4.2],[9.5,-4.5],[6.9,-4.2],[11.4,-3.6],[8.8,-2.8],[9.9,-0.8],
  [8.4,-4.6],[10.9,-2.9],[9.2,-4.1],[9.6,-1.9],[8.0,-3.8],[11.8,-2.4],[8.7,-2.3],[10.1,-3.8],[9.3,-4.8],[10.6,-2.1],
  [8.3,-3.1],[9.7,-5.9],[7.5,-2.4],[10.4,-3.3],[8.9,-1.0],[11.1,-1.5],[9.1,-4.3],[10.0,-2.5],[7.8,-4.3],[10.8,-4.5],
  [9.4,-2.9],[8.6,-3.6],[10.2,-2.1],[8.1,-5.2],[11.6,-3.1],[9.0,-3.5],[9.8,-4.0],[8.5,-1.9],[10.5,-5.1],[9.5,-2.6],
  [7.2,-3.4],[10.3,-2.8],[8.8,-3.8],[11.0,-2.5],[8.4,-3.3],[9.9,-3.7],[9.2,-1.5],[10.7,-4.0],[7.9,-4.7],[10.1,-3.0],
  [9.3,-3.5],[11.3,-4.4],[8.2,-2.6],[9.7,-4.3],[8.7,-3.2],[10.4,-1.3],[9.1,-4.7],[9.6,-2.3],[7.6,-3.0],[10.9,-3.4],
  [8.9,-4.2],[10.0,-1.9],[8.3,-3.9],[10.2,-4.9],[9.5,-3.6],[7.5,-5.0],[12.2,-3.9],[8.6,-0.7],[9.8,-3.1],[8.0,-2.2],
  [10.0,-3.0],[9.1,-4.5],[8.4,-2.5],[10.8,-3.7],[9.3,-1.8],[9.7,-4.0],[8.6,-3.2],[10.1,-5.1],[11.1,-2.7],[9.2,-3.5],
  [10.3,-2.2],[8.1,-4.2],[9.5,-2.9],[10.6,-4.7],[8.8,-1.2],[8.9,-3.8],[9.8,-2.4],[10.4,-3.4],[8.0,-2.0],[9.4,-5.5],
  [7.5,-3.1],[11.2,-3.9],[10.7,-1.6],[8.7,-4.3],[9.1,-2.8],[9.9,-3.6],[8.9,-2.3],[8.5,-4.9],[11.6,-3.3],[9.9,-0.9],
  [10.4,-4.1],[7.7,-2.6],[9.6,-4.6],[9.6,-1.9],[8.4,-3.7],[10.6,-3.0],[10.9,-5.3],[8.6,-2.1],[10.1,-3.5],[11.5,-2.5],
  [7.3,-4.4],[8.3,-1.4],[9.3,-4.0],[9.7,-3.2],[9.0,-4.8],[8.8,-2.7],[7.9,-3.4],[10.1,-1.7],[11.0,-4.2],[10.3,-2.9],
  [9.8,-5.8],[7.2,-2.3],[9.6,-3.8],[11.0,-1.1],[11.7,-4.5],[9.0,-3.1],[8.2,-3.9],[9.4,-2.4],[7.8,-5.0],[11.4,-2.0],
  [9.5,-3.6],[10.8,-2.8],[10.2,-4.3],[9.1,-1.5],[8.6,-4.1],[8.3,-3.3],[8.6,-0.7],[9.2,-5.2],[10.0,-2.6],[12.0,-3.7],
  [8.2,-2.2],[9.9,-4.7],[8.7,-3.0],[10.9,-3.4],[9.0,-1.8],[10.4,-5.6],[10.5,-2.5],[9.0,-3.9],[8.0,-3.1],[10.7,-4.4],
  [9.7,-2.1],[6.9,-3.5],[10.4,-1.3],[9.5,-4.2],[11.8,-2.7],[11.3,-4.9],[8.5,-2.9],[10.3,-3.8],[8.5,-1.6],[8.3,-4.6],
  [9.9,-3.2],[9.2,-2.4],[10.7,-4.0],[7.6,-1.9],[9.7,-5.4],[9.3,-2.8],[8.8,-3.6],[10.9,-2.3],[7.7,-4.3],[10.2,-3.3],
  [9.4,-1.0],[10.0,-4.1],[9.0,-2.6],[10.3,-4.8],[9.5,-2.2],[9.1,-3.7],[11.3,-3.0],[8.8,-4.5],[8.1,-1.7],[9.8,-3.9],
  [9.3,-3.1],[8.4,-5.1],[10.2,-2.0],[8.5,-3.5],[9.6,-2.5],[11.5,-4.2],[8.1,-2.9],[10.5,-3.4],[9.8,-1.4],[9.4,-4.7],
  [8.6,-2.7],[10.9,-3.8],[8.9,-2.1],[7.9,-4.0],[9.2,-3.3],[7.8,-1.3],[8.9,-6.0],[12.1,-2.4],[9.7,-3.6],[10.6,-1.8],
  [7.85,-0.4],[8.25,-0.55],[9.3,-0.45],[12.6,-2.4],[6.6,-2.85],[7.8,-6.1],[8.45,-6.05],[9.1,-6.15],[10.5,-5.85],[10.6,-5.4],
  [11.75,-0.85],[10.95,-1.0],[12.05,-2.55]
];

// ---------------- ticks & texts ----------------
const circlesXTicks = [-1, -0.5, 0, 0.5, 1];
const circlesYTicks = [-1, -0.75, -0.5, -0.25, 0, 0.25, 0.5, 0.75, 1];
const moonsXTicks = [-1, -0.5, 0, 0.5, 1, 1.5, 2];
const moonsYTicks = [-0.6, -0.4, -0.2, 0, 0.2, 0.4, 0.6, 0.8, 1.0];
const blobsXTicks = [0, 2, 4, 6, 8, 10, 12];
const blobsYTicks = [-8, -6, -4, -2, 0];

const circlesScores = [
  "Silhouette score: 0.32636753062714285",
  "Calinski Harabasz score: 775.5368975320672",
  "Davies Bouldin score: 1.2355366661628284",
  "DBCV score: -0.9254153575004813",
];
const moonsScores = [
  "Silhouette score: 0.49172777617992036",
  "Calinski Harabasz score: 2234.590237506631",
  "Davies Bouldin score: 0.7775144370064481",
  "DBCV score: -0.8884079687726721",
];
const blobsScores = [
  "Silhouette score: 0.6465964103176001",
  "Calinski Harabasz score: 4762.15547147329",
  "Davies Bouldin score: 0.496631863665014",
  "DBCV score: -0.5714513813902176",
];

const circlesTitle = "noisy_circles clsutered with k-means clustering, with k = 2";
const moonsTitle = "noisy_moons clsutered with k-means clustering, with k = 2";
const blobsTitle = "blobs clsutered with k-means clustering, with k = 3";

const SANS = "'DejaVu Sans', sans-serif";
const SERIF = "'DejaVu Serif', serif";
const AXIS = "#333333";

const minus = (s: string) => s.replace(/-/g, "\u2212");

function Panel(props: any) {
  const { id, left, right, top, bottom, xDomain, yDomain, xTicks, yTicks, xFmt, yFmt,
    series, title, titleX, titleY, titleFont, box } = props;
  const x = d3.scaleLinear().domain(xDomain).range([left, right]);
  const y = d3.scaleLinear().domain(yDomain).range([bottom, top]);
  const fx = d3.format(xFmt);
  const fy = d3.format(yFmt);
  return (
    <g>
      <defs>
        <clipPath id={id}>
          <rect x={left} y={top} width={right - left} height={bottom - top} />
        </clipPath>
      </defs>
      <g clipPath={`url(#${id})`}>
        {series.map((s: any, si: number) =>
          s.data.map((d: Pt, i: number) => (
            <circle key={si + "-" + i} cx={x(d[0])} cy={y(d[1])} r={s.r}
              fill={s.color} fillOpacity={s.opacity}
              stroke={s.stroke || "none"} strokeWidth={s.strokeWidth || 0} strokeOpacity={s.strokeOpacity || 1} />
          ))
        )}
      </g>
      <rect x={left} y={top} width={right - left} height={bottom - top} fill="none" stroke={AXIS} strokeWidth={1} />
      {xTicks.map((t: number) => (
        <g key={"x" + t}>
          <line x1={x(t)} x2={x(t)} y1={bottom} y2={bottom + 3.5} stroke={AXIS} strokeWidth={0.8} />
          <text x={x(t)} y={bottom + 16.5} textAnchor="middle" fontFamily={SERIF} fontSize={10} fill={AXIS}>
            {minus(fx(t))}
          </text>
        </g>
      ))}
      {yTicks.map((t: number) => (
        <g key={"y" + t}>
          <line x1={left - 3.5} x2={left} y1={y(t)} y2={y(t)} stroke={AXIS} strokeWidth={0.8} />
          <text x={left - 7} y={y(t) + 3.6} textAnchor="end" fontFamily={SERIF} fontSize={10} fill={AXIS}>
            {minus(fy(t))}
          </text>
        </g>
      ))}
      <text x={titleX} y={titleY} textAnchor="middle" fontFamily={titleFont} fontSize={12.6} fill="#222">
        {title}
      </text>
      <rect x={box.x} y={box.y} width={box.w} height={box.h} rx={3} ry={3}
        fill="#f5deb3" fillOpacity={0.8} stroke="#555" strokeWidth={1} />
      {box.lines.map((l: string, i: number) => (
        <text key={"b" + i} x={box.x + 2.5} y={box.base + i * 11.7} fontFamily={box.font} fontSize={10.5} fill="#222">
          {l}
        </text>
      ))}
    </g>
  );
}

export default function App() {
  const RED = "#ef5350";
  const TEAL = "#1fa9a1";
  return (
    <svg width={631} height={1535} viewBox="0 0 631 1535"
      style={{ position: "absolute", left: 0, top: 0, display: "block", background: "#fff" }}>
      <rect x={0} y={0} width={631} height={1535} fill="#fff" />
      <Panel id="c1" left={179.3} right={458.3} top={92.7} bottom={375}
        xDomain={[-1.096, 1.077]} yDomain={[-1.083, 1.117]}
        xTicks={circlesXTicks} yTicks={circlesYTicks} xFmt=".1f" yFmt=".2f"
        series={[
          { data: circlesRed, color: RED, r: 3.2, opacity: 1 },
          { data: circlesTeal, color: TEAL, r: 3.2, opacity: 1 },
        ]}
        title={circlesTitle} titleX={318.8} titleY={86} titleFont={SANS}
        box={{ x: 179.3, y: 7.3, w: 249.7, h: 52.7, lines: circlesScores, base: 18.3, font: SANS }} />
      <Panel id="c2" left={43} right={634} top={543.3} bottom={874}
        xDomain={[-1.128, 2.077]} yDomain={[-0.648, 1.143]}
        xTicks={moonsXTicks} yTicks={moonsYTicks} xFmt=".1f" yFmt=".1f"
        series={[
          { data: moonsRed, color: RED, r: 3.3, opacity: 1 },
          { data: moonsTeal, color: TEAL, r: 3.3, opacity: 1 },
        ]}
        title={moonsTitle} titleX={338.5} titleY={536.5} titleFont={SERIF}
        box={{ x: 42.3, y: 456.7, w: 254.4, h: 52.3, lines: moonsScores, base: 468.3, font: SERIF }} />
      <Panel id="c3" left={54.3} right={612.5} top={1042.7} bottom={1515.7}
        xDomain={[-0.018, 12.6]} yDomain={[-9.6, 1.109]}
        xTicks={blobsXTicks} yTicks={blobsYTicks} xFmt="d" yFmt="d"
        series={[
          { data: blobsBlue, color: "#5c6bc0", r: 1.7, opacity: 0.8, stroke: "#9fa8da", strokeWidth: 0.5, strokeOpacity: 0.6 },
          { data: blobsRed, color: "#ef5350", r: 1.7, opacity: 0.8, stroke: "#f4a09e", strokeWidth: 0.5, strokeOpacity: 0.6 },
          { data: blobsGreen, color: "#8bc34a", r: 1.7, opacity: 0.8, stroke: "#c5e1a5", strokeWidth: 0.5, strokeOpacity: 0.6 },
        ]}
        title={blobsTitle} titleX={333.4} titleY={1036} titleFont={SERIF}
        box={{ x: 53.3, y: 959.3, w: 248.4, h: 51.7, lines: blobsScores, base: 970.7, font: SERIF }} />
    </svg>
  );
}
